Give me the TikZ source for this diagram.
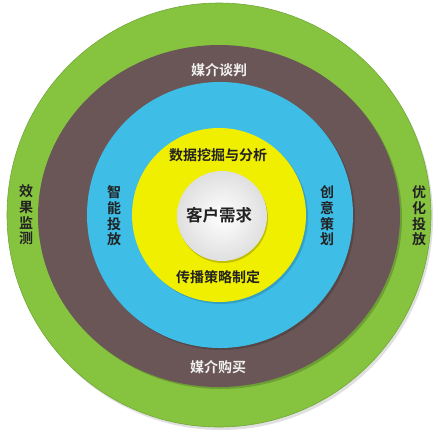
\documentclass[tikz,border=0pt]{standalone}
\usepackage{fontspec}
\newfontfamily\cjk{Noto Sans CJK SC}[BoldFont={Noto Sans CJK SC Bold}]
\definecolor{ringgreen}{HTML}{86C440}
\definecolor{ringbrown}{HTML}{6A5656}
\definecolor{ringcyan}{HTML}{3EBDE6}
\definecolor{ringyellow}{HTML}{F0EF00}
\definecolor{darktext}{HTML}{222222}
\begin{document}
\begin{tikzpicture}[x=1pt,y=-1pt,
  shadowdisk/.style={fill=black,opacity=0.18},
  lbl/.style={font=\cjk\bfseries\fontsize{14}{15.6}\selectfont,text=darktext,inner sep=0pt,align=center},
  wlbl/.style={lbl,text=white!94!black},
  biglbl/.style={font=\cjk\bfseries\fontsize{16.5}{18}\selectfont,text=darktext,inner sep=0pt}]
\useasboundingbox (0,0) rectangle (438,437);
% outer green
\fill[black,opacity=0.12] (221,218) circle (212);
\path[fill=ringgreen,draw=ringgreen!85!black,line width=0.6pt] (219,215) circle (212);
% brown
\fill[black,opacity=0.18] (221,218) ellipse (181 and 171);
\path[fill=ringbrown] (219,216) ellipse (181 and 171);
% cyan
\fill[black,opacity=0.18] (222,217) circle (133);
\path[fill=ringcyan] (220,215) circle (133);
% yellow
\fill[black,opacity=0.15] (221,217) circle (87);
\path[fill=ringyellow] (219,215) circle (87);
% white centre
\fill[black,opacity=0.2] (223,218) circle (45);
\shade[inner color=white,outer color=gray!25] (222,216) circle (45);

\node[biglbl] (core) at (219,215) {客户需求};
\node[lbl] (data) at (218,155) {数据挖掘与分析};
\node[lbl] (comm) at (218,277) {传播策略制定};
\node[lbl] (smart) at (114,216) {智\\能\\投\\放};
\node[lbl] (creative) at (327,216) {创\\意\\策\\划};
\node[wlbl] (nego) at (219,70) {媒介谈判};
\node[wlbl] (buy) at (218,367) {媒介购买};
\node[lbl] (monitor) at (26,215) {效\\果\\监\\测};
\node[lbl] (optim) at (419,216) {优\\化\\投\\放};
\end{tikzpicture}
\end{document}
